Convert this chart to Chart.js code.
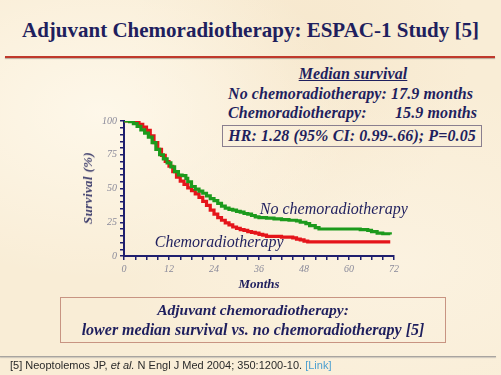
<!DOCTYPE html>
<html>
<head>
<meta charset="utf-8">
<script src="https://cdn.jsdelivr.net/npm/chart.js@4.4.1/dist/chart.umd.min.js"></script>
<style>
  html, body { margin: 0; padding: 0; }
  body {
    width: 501px; height: 375px; overflow: hidden; position: relative;
    background: #f9edd6;
    background-image:
      radial-gradient(ellipse at 20% 30%, rgba(255,250,238,0.8), rgba(255,250,238,0) 45%),
      radial-gradient(ellipse at 80% 70%, rgba(252,244,228,0.7), rgba(252,244,228,0) 50%),
      radial-gradient(ellipse at 60% 15%, rgba(244,226,196,0.5), rgba(244,226,196,0) 40%);
    font-family: "Liberation Serif", "DejaVu Serif", serif;
    color: #1f1f5e;
  }
  .abs { position: absolute; white-space: pre; }
  #title { left: 0; width: 501px; top: 18px; text-align: center; font-size: 21px; font-weight: bold; }
  #rule { left: 5px; width: 490px; top: 56px; height: 2px; background: #c0392b; box-shadow: 0 1px 1px rgba(120,100,90,0.5); }
  .info { font-weight: bold; font-style: italic; font-size: 16px; letter-spacing: 0.1px; }
  #median { left: 228px; width: 250px; top: 65px; text-align: center; text-decoration: underline; }
  #line1 { left: 228px; top: 85px; }
  #line2 { left: 228px; top: 104px; width: 249px; }
  #line2 .r { position: absolute; right: 0; top: 0; }
  #hrbox { left: 222px; top: 125px; width: 260px; height: 22px; border: 1px solid #8a7f8f; box-sizing: border-box; text-align: center; line-height: 20px; }
  #ytitle { left: 88px; top: 188px; font-weight: bold; font-style: italic; font-size: 13px; letter-spacing: 0.4px; color: #3a3a6a;
            transform: translate(-50%, -50%) rotate(-90deg); }
  #xtitle { left: 124px; width: 270px; top: 276px; text-align: center; font-weight: bold; font-style: italic; font-size: 13px; }
  #conclusion { left: 60px; top: 297px; width: 386px; height: 46px; border: 1.5px solid #c89482; box-sizing: border-box;
                text-align: center; font-weight: bold; font-style: italic; font-size: 15.5px; line-height: 20px; padding-top: 2px; }
  #conclusion .l2 { font-size: 16px; }
  #footrule { left: 0; width: 496px; top: 356px; height: 1px; background: #a8a4a0; box-shadow: 0 1px 1px rgba(150,150,150,0.5); }
  #footer { left: 10px; top: 359px; font-family: "Liberation Sans", Arial, sans-serif; font-size: 11px; color: #2a2a2a; }
  #footer span.link { color: #4b9fd0; }
  #chart { position: absolute; left: 0; top: 0; }
</style>
</head>
<body>
<div class="abs" id="title">Adjuvant Chemoradiotherapy: ESPAC-1 Study [5]</div>
<div class="abs" id="rule"></div>
<div class="abs info" id="median">Median survival</div>
<div class="abs info" id="line1">No chemoradiotherapy: 17.9 months</div>
<div class="abs info" id="line2">Chemoradiotherapy:<span class="r">15.9 months</span></div>
<div class="abs info" id="hrbox">HR: 1.28 (95% CI: 0.99-.66); P=0.05</div>
<canvas id="chart" width="501" height="375"></canvas>
<div class="abs" id="ytitle">Survival (%)</div>
<div class="abs" id="xtitle">Months</div>
<div class="abs" id="conclusion">Adjuvant chemoradiotherapy:
<span class="l2">lower median survival vs. no chemoradiotherapy [5]</span></div>
<div class="abs" id="footrule"></div>
<div class="abs" id="footer">[5] Neoptolemos JP, <i>et al.</i> N Engl J Med 2004; 350:1200-10. <span class="link">[Link]</span></div>

<script>
// Kaplan-Meier curves (months, survival %)
const monthsNoCRT = [0, 1.5, 2.5, 3.5, 4.5, 5.5, 6.5, 7.5, 8.5, 9.5, 10.5, 11.5, 12.5, 13.5, 14.5, 15.5, 16.5, 17, 18, 19, 20, 21, 22, 23, 24, 25, 26, 27, 28, 29, 30, 31, 32, 33, 34, 35, 36, 38, 40, 42, 44, 46, 47, 48.5, 49.5, 51, 52, 56, 60, 63, 65, 66, 67.5, 69, 71];
const survivalNoCRT = [100, 99.5, 98, 96, 93.5, 91, 88, 84, 79, 75, 72, 69, 66, 62.5, 60, 59.5, 57.5, 55, 51.5, 49.5, 48, 46.5, 44.5, 42.5, 41, 39, 37, 35.5, 34.5, 34, 33, 32.5, 31.5, 31, 30, 29, 28.5, 28, 27.5, 27, 26.5, 26, 25, 24, 22.5, 21, 20, 20, 20, 19.5, 19, 18, 17, 16.5, 16];

const monthsCRT = [0, 2, 3, 4, 5, 6, 7, 8, 9, 10, 11, 12, 13, 14, 15, 16, 17, 18, 19, 20, 21, 22, 23, 24, 25, 26, 27, 28, 29, 30, 31, 32, 33, 34, 35, 36, 37, 38, 40, 42, 44, 45, 46, 47, 48, 49, 52, 60, 71];
const survivalCRT = [100, 100, 99, 97.5, 95.5, 93, 89, 84, 79, 74.5, 70, 66.5, 62.5, 58.5, 55.5, 53, 50.5, 48.5, 46, 43.5, 40.5, 37.5, 34, 31, 28.5, 26.5, 24.5, 23, 21.5, 20.5, 19.5, 19, 18, 17.5, 17, 16, 15.5, 14.5, 14.5, 14, 14, 13.5, 12.5, 12, 11, 10.5, 10.5, 10.5, 10.5];

const xLabelEvery = 12;   // months
const yLabelEvery = 25;   // percent

const navy = '#1f1f6e';
const toPoints = (xs, ys) => xs.map((x, i) => ({ x: x, y: ys[i] }));

// curve labels placed in data coordinates
const curveLabels = [
  { text: 'No chemoradiotherapy', x: 36.2, y: 34, color: '#1f1f5e' },
  { text: 'Chemoradiotherapy', x: 8.2, y: 9.5, color: '#1f1f5e' }
];

const labelPlugin = {
  id: 'curveLabels',
  afterDatasetsDraw(chart) {
    const ctx = chart.ctx;
    ctx.save();
    ctx.font = 'italic 16px "Liberation Serif", serif';
    ctx.textBaseline = 'middle';
    ctx.textAlign = 'left';
    curveLabels.forEach(l => {
      ctx.fillStyle = l.color;
      ctx.fillText(l.text, chart.scales.x.getPixelForValue(l.x), chart.scales.y.getPixelForValue(l.y));
    });
    ctx.restore();
  }
};

const ctx = document.getElementById('chart').getContext('2d');
new Chart(ctx, {
  type: 'line',
  data: {
    datasets: [
      {
        label: 'No chemoradiotherapy',
        data: toPoints(monthsNoCRT, survivalNoCRT),
        borderColor: '#1c9a1c',
        borderWidth: 3.2,
        stepped: true,
        pointRadius: 0,
        fill: false
      },
      {
        label: 'Chemoradiotherapy',
        data: toPoints(monthsCRT, survivalCRT),
        borderColor: '#e5141a',
        borderWidth: 3.2,
        stepped: true,
        pointRadius: 0,
        fill: false
      }
    ]
  },
  options: {
    responsive: false,
    animation: false,
    layout: { padding: { left: 0, top: 121, right: 107, bottom: 89 } },
    plugins: {
      legend: { display: false },
      tooltip: { enabled: false }
    },
    scales: {
      x: {
        type: 'linear',
        min: 0,
        max: 72,
        afterFit: s => { s.height = 30; },
        border: { display: true, color: navy, width: 2 },
        grid: { drawOnChartArea: false, drawTicks: true, tickLength: 4, color: navy, lineWidth: 1.5 },
        ticks: {
          stepSize: 3,
          autoSkip: false,
          maxRotation: 0,
          padding: 3,
          color: '#8a8a9a',
          font: { family: '"Liberation Serif", serif', style: 'italic', size: 10 },
          callback: v => (v % xLabelEvery === 0 ? String(v) : '')
        }
      },
      y: {
        min: 0,
        max: 100,
        afterFit: s => { s.width = 124; },
        border: { display: true, color: navy, width: 2 },
        grid: { drawOnChartArea: false, drawTicks: true, tickLength: 4, color: navy, lineWidth: 1.5 },
        ticks: {
          stepSize: 5,
          autoSkip: false,
          padding: 3,
          color: '#8a8a9a',
          font: { family: '"Liberation Serif", serif', style: 'italic', size: 10 },
          callback: v => (v % yLabelEvery === 0 ? String(v) : '')
        }
      }
    }
  },
  plugins: [labelPlugin]
});
</script>
</body>
</html>
